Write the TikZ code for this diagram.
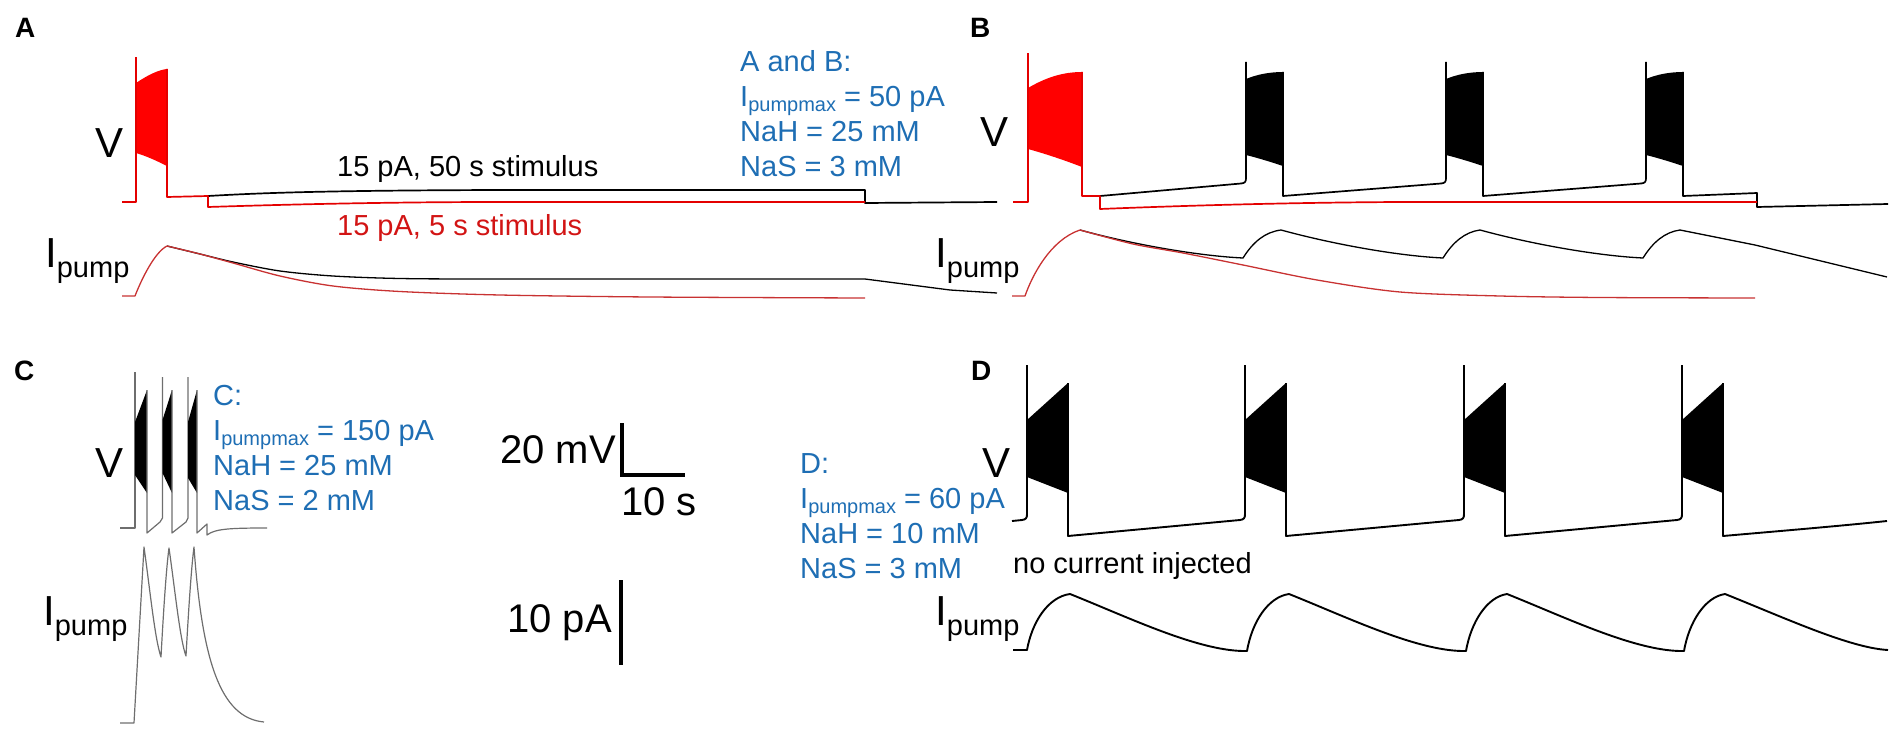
\documentclass[tikz,border=0pt]{standalone}
\usepackage{fontspec}
\setmainfont{Liberation Sans}
\definecolor{blu}{RGB}{30,110,180}
\definecolor{rtrace}{RGB}{228,0,0}
\definecolor{rcur}{RGB}{200,50,50}
\definecolor{rtext}{RGB}{210,20,20}
\definecolor{ctr}{RGB}{110,110,110}
\newcommand{\fs}[1]{\fontsize{#1bp}{#1bp}\selectfont}
\newcommand{\ipmax}{I\raisebox{-5bp}{\fs{20}pumpmax}}
\begin{document}
\begin{tikzpicture}[x=1bp,y=-1bp,
  txt/.style={inner sep=0pt, anchor=base west, font=\fs{29}},
  bluetxt/.style={txt, text=blu},
  panel/.style={inner sep=0pt, anchor=base west, font=\fs{28}\bfseries},
  biglab/.style={inner sep=0pt, anchor=base west, font=\fs{42}},
  numlab/.style={inner sep=0pt, font=\fs{40}},
  vtr/.style={line width=1.7bp, line join=round},
  itr/.style={line width=1.3bp, line join=round},
  dtr/.style={line width=1.9bp, line join=round},
  ctrace/.style={line width=1.2bp, ctr, line join=round},
  bar/.style={line width=3.2bp}]
\useasboundingbox (0,0) rectangle (1901,735);

% ---------- panel labels ----------
\node[panel] (labA) at (15,38) {A};
\node[panel] (labB) at (970,38) {B};
\node[panel] (labC) at (14,380) {C};
\node[panel] (labD) at (971,380) {D};

% ---------- axis labels ----------
\node[biglab] (vA) at (95,158) {V};
\node[biglab] (vB) at (980,147) {V};
\node[biglab] (vC) at (95,477) {V};
\node[biglab] (vD) at (982,477) {V};
\node[biglab] (iA) at (45,267) {I\raisebox{-10bp}{\fs{29}pump}};
\node[biglab] (iB) at (935,267) {I\raisebox{-10bp}{\fs{29}pump}};
\node[biglab] (iC) at (43,625) {I\raisebox{-10bp}{\fs{29}pump}};
\node[biglab] (iD) at (935,625) {I\raisebox{-10bp}{\fs{29}pump}};

% ---------- texts ----------
\node[txt] (t50) at (337,177) {15 pA, 50 s stimulus};
\node[txt, text=rtext] (t5) at (337,235) {15 pA, 5 s stimulus};
\node[txt] (tnc) at (1013,573) {no current injected};

\node[bluetxt] (ab1) at (740,72) {A and B:};
\node[bluetxt] (ab2) at (740,107) {\ipmax{} = 50 pA};
\node[bluetxt] (ab3) at (740,142) {NaH = 25 mM};
\node[bluetxt] (ab4) at (740,177) {NaS = 3 mM};

\node[bluetxt] (c1) at (213,405) {C:};
\node[bluetxt] (c2) at (213,440) {\ipmax{} = 150 pA};
\node[bluetxt] (c3) at (213,475) {NaH = 25 mM};
\node[bluetxt] (c4) at (213,510) {NaS = 2 mM};

\node[bluetxt] (d1) at (800,473) {D:};
\node[bluetxt] (d2) at (800,508) {\ipmax{} = 60 pA};
\node[bluetxt] (d3) at (800,543) {NaH = 10 mM};
\node[bluetxt] (d4) at (800,578) {NaS = 3 mM};

% ---------- scale bars ----------
\node[numlab, anchor=base east] (mv) at (616,463) {20 mV};
\node[numlab, anchor=base west] (sec) at (621,515) {10 s};
\node[numlab, anchor=base east] (pa) at (612,632) {10 pA};
\draw[bar] (622,423) -- (622,475) -- (685,475);
\draw[bar] (621,580) -- (621,665);

% ================= PANEL A =================
\draw[vtr] (208,196) .. controls (260,193) and (320,190.5) .. (500,190) -- (865,190) -- (865,203) -- (997,202);
\fill[red] (136,83) .. controls (148,75) and (158,70) .. (167,69) -- (167,166) .. controls (155,160) and (146,156) .. (136,153) -- cycle;
\draw[vtr, rtrace] (122,202) -- (136,202) -- (136,57);
\draw[vtr, rtrace] (167,69) -- (167,197) -- (208,196) -- (208,207) .. controls (300,204) and (400,202) .. (500,202) -- (865,202);
% Ipump A
\draw[itr] plot[smooth] coordinates {(167,246) (200,254) (233,262) (280,271) (333,276) (400,278.5) (500,279) (865,279)} -- (950,290) -- (997,293);
\draw[itr, rcur] (122,296) -- (135,296) .. controls (142,278) and (155,252) .. (167,246);
\draw[itr, rcur] plot[smooth] coordinates {(167,246) (200,254) (233,263) (280,276) (333,286) (400,291.5) (500,295) (650,297) (865,298)};

% ================= PANEL B =================
\foreach \s in {1246,1446,1646}{
  \fill (\s,79) .. controls (\s+12,74) and (\s+25,72) .. (\s+37,72) -- (\s+37,166) .. controls (\s+25,162) and (\s+12,158) .. (\s,155) -- cycle;
  \draw[vtr] (\s-5,183.5) .. controls (\s-1,183) and (\s,182) .. (\s,178) -- (\s,62);
}
\draw[vtr] (1100,196) -- (1241,183.5);
\draw[vtr] (1283,72) -- (1283,196) -- (1441,183.5);
\draw[vtr] (1483,72) -- (1483,196) -- (1641,183.5);
\draw[vtr] (1683,72) -- (1683,196) -- (1757,193) -- (1757,207) -- (1888,204);
\fill[red] (1028,88) .. controls (1045,78) and (1062,72) .. (1082,72) -- (1082,167) .. controls (1064,160) and (1046,154) .. (1028,149) -- cycle;
\draw[vtr, rtrace] (1013,202) -- (1028,202) -- (1028,53);
\draw[vtr, rtrace] (1082,72) -- (1082,196) -- (1100,196) -- (1100,209) .. controls (1200,205) and (1300,202.5) .. (1400,202) -- (1757,202);
% Ipump B
\draw[itr] (1080,230) .. controls (1135,245) and (1200,256) .. (1243,258)
  .. controls (1253,242) and (1265,232) .. (1281,230)
  .. controls (1336,245) and (1400,256) .. (1443,258)
  .. controls (1453,242) and (1465,232) .. (1480,230)
  .. controls (1535,245) and (1600,256) .. (1643,258)
  .. controls (1653,242) and (1665,232) .. (1680,230)
  -- (1755,245) -- (1887,277);
\draw[itr, rcur] (1012,296) -- (1025,296) .. controls (1032,276) and (1050,240) .. (1080,230);
\draw[itr, rcur] plot[smooth] coordinates {(1080,230) (1133,244) (1183,253) (1243,265) (1317,280) (1400,292) (1500,296) (1600,297.5) (1755,298)};

% ================= PANEL C =================
\draw[ctrace] (120,528) -- (135,528) -- (135,372);
\fill (135,422) -- (147,390) -- (147,493) -- (135,475) -- cycle;
\draw[ctrace] (147,390) -- (147,533) -- (160,522) -- (162.5,518) -- (162.5,377);
\fill (162.5,420) -- (172,390) -- (172,493) -- (162.5,473) -- cycle;
\draw[ctrace] (172,390) -- (172,533) -- (186,522) -- (188,518) -- (188,377);
\fill (188,422) -- (197,390) -- (197,493) -- (188,478) -- cycle;
\draw[ctrace] (197,390) -- (197,533) -- (207,524) -- (207,535) .. controls (215,529) and (228,528) .. (267,528);
% Ipump C
\draw[ctrace] (120,723) -- (134,723) -- (144,547)
  .. controls (150,590) and (155,640) .. (161,657)
  .. controls (163,620) and (166,570) .. (169,548)
  .. controls (175,590) and (180,640) .. (186,656)
  .. controls (188,620) and (191,570) .. (194,547)
  .. controls (202,660) and (220,718) .. (264,722);

% ================= PANEL D =================
\foreach \s in {1027,1245,1464,1682}{
  \fill (\s,420) -- (\s+41,383) -- (\s+41,493) -- (\s,477) -- cycle;
  \draw[dtr] (\s-5,520) .. controls (\s-1,519.5) and (\s,518) .. (\s,514) -- (\s,365);
}
\draw[dtr] (1012,521) -- (1022,520);
\draw[dtr] (1068,383) -- (1068,536) -- (1240,520);
\draw[dtr] (1286,383) -- (1286,536) -- (1459,520);
\draw[dtr] (1505,383) -- (1505,536) -- (1677,520);
\draw[dtr] (1723,383) -- (1723,536) .. controls (1780,531) and (1840,526) .. (1887,521);
% Ipump D
\draw[dtr] (1013,650) -- (1027,650)
  .. controls (1032,622) and (1048,597) .. (1070,594)
  .. controls (1130,618) and (1200,652) .. (1247,651)
  .. controls (1252,622) and (1268,597) .. (1289,594)
  .. controls (1349,618) and (1419,652) .. (1466,651)
  .. controls (1471,622) and (1487,597) .. (1507,594)
  .. controls (1567,618) and (1637,652) .. (1684,651)
  .. controls (1689,622) and (1705,597) .. (1725,594)
  .. controls (1785,618) and (1850,648) .. (1888,650);
\end{tikzpicture}
\end{document}
